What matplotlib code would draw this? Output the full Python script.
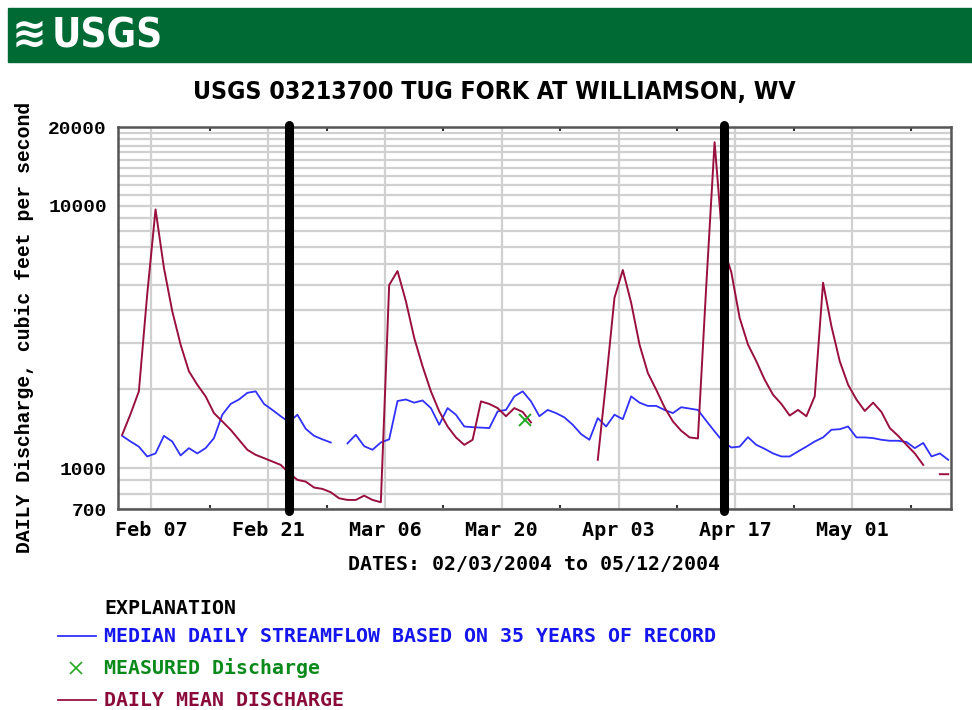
import numpy as np
import pandas as pd
import matplotlib
matplotlib.use('Agg')
import matplotlib.pyplot as plt
import matplotlib.dates as mdates
from matplotlib.patches import Rectangle
from matplotlib.lines import Line2D
from datetime import datetime

# daily values, 02/03/2004 .. 05/12/2004 (100 days), nan = no value
median_flow = [1330, 1266, 1210, 1110, 1140, 1330, 1266, 1120, 1194, 1140,
               1194, 1304, 1601, 1760, 1830, 1940, 1966, 1760, 1670, 1580,
               1500, 1601, 1415, 1330, 1290, 1255, np.nan, 1245, 1343, 1215,
               1177, 1255, 1290, 1806, 1830, 1780, 1815, 1697, 1466, 1697,
               1601, 1444, 1435, 1430, 1424, 1649, 1670, 1881, 1966, 1800,
               1580, 1670, 1624, 1564, 1466, 1351, 1285, 1554, 1444, 1601,
               1540, 1881, 1780, 1730, 1730, 1670, 1624, 1710, 1690, 1670,
               1518, 1383, 1266, 1201, 1210, 1315, 1229, 1187, 1140, 1110,
               1110, 1160, 1210, 1266, 1312, 1403, 1410, 1444, 1312, 1312,
               1304, 1285, 1274, 1274, 1260, 1194, 1250, 1110, 1140, 1078]

mean_flow = [1343, 1610, 1966, 4600, 9700, 5820, 3974, 2965, 2344, 2084,
             1881, 1624, 1510, 1403, 1285, 1177, 1126, 1094, 1062, 1031,
             960, 904, 890, 845, 835, 811, 769, 758, 758, 787,
             758, 743, 5000, 5650, 4340, 3143, 2449, 1966, 1649, 1444,
             1312, 1229, 1285, 1800, 1760, 1697, 1580, 1697, 1640, 1496,
             np.nan, np.nan, np.nan, np.nan, np.nan, np.nan, np.nan, 1078, 2146, 4467,
             5700, 4277, 2965, 2310, 1995, 1708, 1510, 1391, 1312, 1300,
             4950, 17500, 7000, 5600, 3749, 2965, 2560, 2178, 1909, 1760,
             1590, 1670, 1580, 1881, 5100, 3483, 2560, 2084, 1830, 1655,
             1780, 1640, 1424, 1330, 1229, 1140, 1031, np.nan, 950, 950]

dates = pd.date_range('2004-02-03 12:00', periods=len(mean_flow), freq='D')

meas_date = [datetime(2004, 3, 22, 18)]
meas_flow = [1530]

marker_dates = [datetime(2004, 2, 23, 12), datetime(2004, 4, 15, 14)]

x_ticks = pd.date_range('2004-02-07', periods=7, freq='14D')
x_minor = pd.date_range('2004-02-14', periods=7, freq='14D')
y_ticks = [700, 1000, 10000, 20000]
y_grid = [800, 900] + list(range(2000, 10000, 1000)) + list(range(11000, 20000, 1000))

BLUE = '#3030ff'
RED = '#99103f'
GREEN = '#22aa22'

fig = plt.figure(figsize=(9.72, 7.10), dpi=100)

# banner
fig.add_artist(Rectangle((8/972, 1-62/710), 1, 54/710, transform=fig.transFigure,
                         color='#006a35', zorder=0))
fig.text(12/972, 1-35/710, '\u224b', color='white', fontsize=30, fontweight='bold',
         va='center', ha='left', family='DejaVu Sans')
fig.text(52/972, 1-36/710, 'USGS', color='white', fontsize=29, fontweight='bold',
         va='center', ha='left', family='DejaVu Sans', fontstretch='condensed')

fig.text(494/972, 1-92/710, 'USGS 03213700 TUG FORK AT WILLIAMSON, WV',
         fontsize=17.8, fontweight='bold', ha='center', va='center',
         family='DejaVu Sans', fontstretch='condensed')

ax = fig.add_axes([118/972, 1-509/710, (951-118)/972, (509-127)/710])
ax.set_yscale('log')

ax.plot(dates, median_flow, color=BLUE, lw=1.3, zorder=3)
ax.plot(dates, mean_flow, color=RED, lw=1.4, zorder=4)
ax.plot(meas_date, meas_flow, 'x', color=GREEN, ms=9, mew=1.4, zorder=5)
for d in marker_dates:
    ax.axvline(d, color='black', lw=6.5, solid_capstyle='round', zorder=6, clip_on=False,
               ymin=-0.005, ymax=1.005)

ax.set_xlim(datetime(2004, 2, 3), datetime(2004, 5, 12, 20))
ax.set_ylim(700, 20000)

ax.set_xticks(x_ticks)
ax.set_xticks(x_minor, minor=True)
ax.xaxis.set_major_formatter(mdates.DateFormatter('%b %d'))
ax.set_yticks(y_ticks)
ax.set_yticklabels([str(v) for v in y_ticks])
ax.set_yticks(y_grid, minor=True)
ax.yaxis.set_minor_formatter(plt.NullFormatter())

ax.grid(True, axis='x', which='major', color='#d0d0d0', lw=1.6, zorder=1)
ax.grid(True, axis='y', which='both', color='#d0d0d0', lw=1.6, zorder=1)
ax.tick_params(axis='x', which='major', length=0, pad=9)
ax.tick_params(axis='x', which='minor', length=3, width=1.5, direction='in',
               top=True, bottom=True, color='#333333')
ax.tick_params(axis='y', which='both', length=0, pad=8)
for lab in ax.get_xticklabels():
    lab.set_family(['DejaVu Sans Mono'])
    lab.set_fontweight('bold')
    lab.set_fontsize(14.5)
for lab in ax.get_yticklabels():
    lab.set_family(['Liberation Mono', 'DejaVu Sans Mono'])
    lab.set_fontweight('bold')
    lab.set_fontsize(14)
for s in ax.spines.values():
    s.set_color('#555555')
    s.set_linewidth(1.8)

fig.text(25/972, 1-327/710, 'DAILY Discharge, cubic feet per second', rotation=90,
         ha='center', va='center', fontsize=14.2, fontweight='bold',
         family=['Liberation Mono', 'DejaVu Sans Mono'])
fig.text(534/972, 1-564/710, 'DATES: 02/03/2004 to 05/12/2004', ha='center', va='center',
         fontsize=14.3, fontweight='bold', family='DejaVu Sans Mono')

# explanation
mono = dict(fontsize=14.3, fontweight='bold', family='DejaVu Sans Mono', va='center', ha='left')
fig.text(104/972, 1-608/710, 'EXPLANATION', color='black', **mono)
fig.add_artist(Line2D([58/972, 96/972], [1-636/710, 1-636/710], color=BLUE, lw=1.3,
                      transform=fig.transFigure))
fig.text(104/972, 1-636/710, 'MEDIAN DAILY STREAMFLOW BASED ON 35 YEARS OF RECORD',
         color='#1515ee', **mono)
fig.add_artist(Line2D([76/972], [1-668/710], marker='x', color=GREEN, ms=9, mew=1.2,
                      transform=fig.transFigure))
fig.text(104/972, 1-668/710, 'MEASURED Discharge', color='#0a8a1a', **mono)
fig.add_artist(Line2D([58/972, 96/972], [1-700/710, 1-700/710], color=RED, lw=1.3,
                      transform=fig.transFigure))
fig.text(104/972, 1-700/710, 'DAILY MEAN DISCHARGE', color='#8a0a3a', **mono)

fig.savefig('out.png', dpi=100)
